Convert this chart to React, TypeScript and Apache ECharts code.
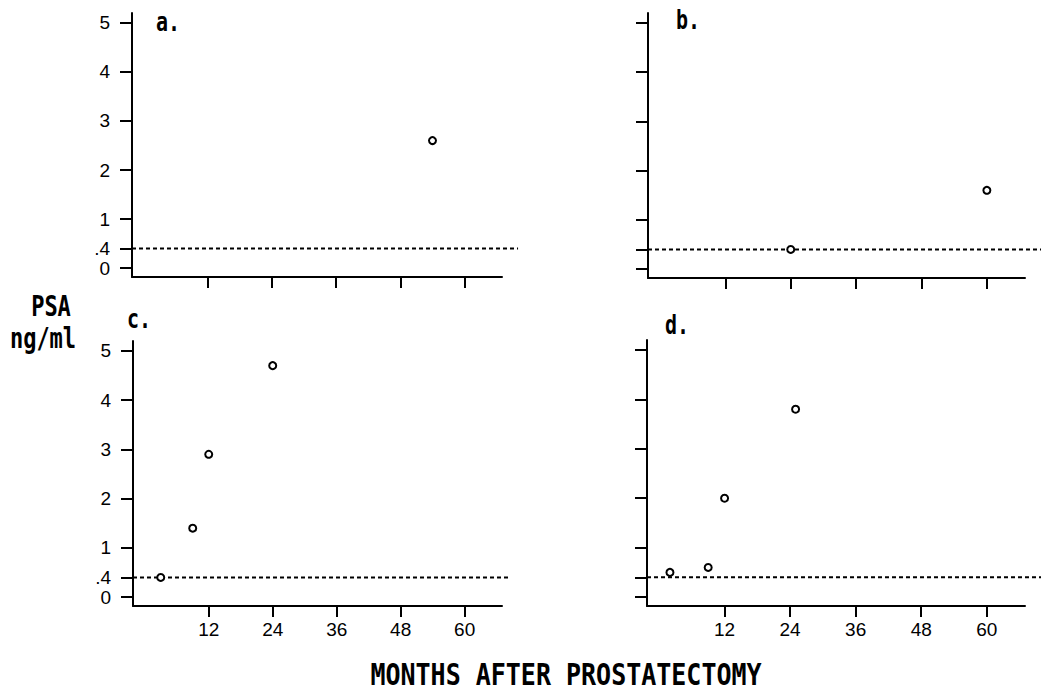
import React, { useEffect, useRef } from 'react';
import * as echarts from 'echarts';

// ---- data ----
const panelLabels = ['a.', 'b.', 'c.', 'd.'];
const monthTicks = [12, 24, 36, 48, 60];
const psaTicks = [0, 0.4, 1, 2, 3, 4, 5];
const psaTickLabels = ['0', '.4', '1', '2', '3', '4', '5'];
const threshold = 0.4;
const thresholdEnds = [70, 72, 68.5, 72];
const panelA = [[54, 2.6]];
const panelB = [[24, 0.4], [60, 1.6]];
const panelC = [[3, 0.4], [9, 1.4], [12, 2.9], [24, 4.7]];
const panelD = [[2, 0.5], [9, 0.6], [12, 2.0], [25, 3.8]];
const xTitle = 'MONTHS AFTER PROSTATECTOMY';
const yTitle = ['PSA', 'ng/ml'];

const X_MIN = -2.2;
const X_MAX = 67;
const Y_MIN = -0.18;
const Y_MAX = 5.2;

const MONO = '"DejaVu Sans Mono", monospace';
const SANS = '"Liberation Sans", Arial, sans-serif';

export default function App() {
  const ref = useRef<HTMLDivElement>(null);

  useEffect(() => {
    if (!ref.current) return;
    const chart = echarts.init(ref.current, null, { renderer: 'svg' });
    const panels = [panelA, panelB, panelC, panelD];
    const grids = [
      { left: 132, top: 13, width: 370, height: 264 },
      { left: 648, top: 13, width: 377, height: 265 },
      { left: 133, top: 341, width: 369, height: 265 },
      { left: 647, top: 340, width: 378, height: 266 },
    ];
    const letterPos = [
      [156, 8],
      [676, 6],
      [127, 305],
      [665, 311],
    ];

    const axisLineStyle = { color: '#000', width: 2 };

    const xAxis = grids.map((_, i) => ({
      type: 'value',
      gridIndex: i,
      min: X_MIN,
      max: X_MAX,
      axisLine: { show: true, onZero: false, lineStyle: axisLineStyle },
      axisTick: { show: true, customValues: monthTicks, length: 11, lineStyle: axisLineStyle },
      axisLabel: {
        show: i >= 2,
        customValues: monthTicks,
        margin: 14,
        color: '#000',
        fontSize: 19,
        fontFamily: SANS,
      },
      splitLine: { show: false },
    }));

    const yAxis = grids.map((_, i) => ({
      type: 'value',
      gridIndex: i,
      min: Y_MIN,
      max: Y_MAX,
      axisLine: { show: true, onZero: false, lineStyle: axisLineStyle },
      axisTick: { show: true, customValues: psaTicks, length: 12, lineStyle: axisLineStyle },
      axisLabel: {
        show: i % 2 === 0,
        customValues: psaTicks,
        margin: 22,
        color: '#000',
        fontSize: 19,
        fontFamily: SANS,
        formatter: (v: number) => {
          const k = psaTicks.findIndex((t) => Math.abs(t - v) < 1e-6);
          return k >= 0 ? psaTickLabels[k] : '';
        },
      },
      splitLine: { show: false },
    }));

    const series: any[] = [];
    panels.forEach((pts, i) => {
      series.push({
        type: 'custom',
        xAxisIndex: i,
        yAxisIndex: i,
        clip: false,
        silent: true,
        data: [[X_MIN, threshold, thresholdEnds[i]]],
        renderItem: (params: any, api: any) => {
          const p1 = api.coord([api.value(0), api.value(1)]);
          const p2 = api.coord([api.value(2), api.value(1)]);
          return {
            type: 'line',
            shape: { x1: p1[0], y1: p1[1], x2: p2[0], y2: p2[1] },
            style: { stroke: '#000', lineWidth: 2, lineDash: [4, 3], fill: null },
          };
        },
        z: 1,
      });
      series.push({
        type: 'scatter',
        xAxisIndex: i,
        yAxisIndex: i,
        data: pts,
        symbol: 'circle',
        symbolSize: 7,
        itemStyle: { color: '#fff', borderColor: '#000', borderWidth: 2, opacity: 1 },
        z: 3,
      });
    });

    const graphic: any[] = [];
    panelLabels.forEach((t, i) => {
      graphic.push({
        type: 'text',
        x: letterPos[i][0],
        y: letterPos[i][1],
        scaleY: 1.3,
        style: { text: t, font: `bold 20px ${MONO}`, fill: '#000', align: 'left', verticalAlign: 'top' },
      });
    });
    graphic.push({
      type: 'text',
      x: 51,
      y: 293,
      scaleY: 1.25,
      style: { text: yTitle[0], font: `bold 22px ${MONO}`, fill: '#000', align: 'center', verticalAlign: 'top' },
    });
    graphic.push({
      type: 'text',
      x: 43,
      y: 325,
      scaleY: 1.25,
      style: { text: yTitle[1], font: `bold 22px ${MONO}`, fill: '#000', align: 'center', verticalAlign: 'top' },
    });
    graphic.push({
      type: 'text',
      x: 566,
      y: 659,
      scaleY: 1.22,
      style: { text: xTitle, font: `bold 25px ${MONO}`, fill: '#000', align: 'center', verticalAlign: 'top' },
    });

    chart.setOption({
      animation: false,
      backgroundColor: '#fff',
      grid: grids.map((g) => ({ ...g, containLabel: false })),
      xAxis,
      yAxis,
      series,
      graphic,
    });

    return () => chart.dispose();
  }, []);

  return (
    <div
      ref={ref}
      style={{ position: 'fixed', left: 0, top: 0, width: 1041, height: 693, background: '#fff' }}
    />
  );
}
